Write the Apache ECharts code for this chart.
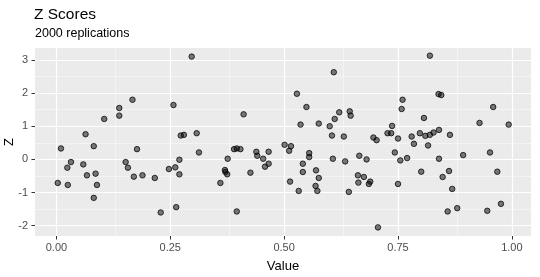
<!DOCTYPE html>
<html><head><meta charset="utf-8">
<script src="https://cdn.jsdelivr.net/npm/echarts@6/dist/echarts.min.js"></script>
<style>html,body{margin:0;padding:0;background:#fff}#c{width:540px;height:277px}</style>
</head><body><div id="c"></div>
<script>
const titleText = 'Z Scores';
const subtitleText = '2000 replications';
const xName = 'Value';
const yName = 'Z';
const xTicks = [0, 0.25, 0.5, 0.75, 1];
const yTicks = [-2, -1, 0, 1, 2, 3];
const xMinor = [0.125, 0.375, 0.625, 0.875];
const yMinor = [-1.5, -0.5, 0.5, 1.5, 2.5];

const valueX = [
  0.105,0.064,0.010,0.082,0.032,0.024,0.059,0.067,0.086,0.003,0.025,0.089,0.082,
  0.297,0.167,0.138,0.138,0.257,0.273,0.280,0.308,0.177,0.313,0.152,0.157,0.270,0.247,0.261,0.270,0.170,0.189,0.216,0.263,0.229,
  0.411,0.390,0.396,0.404,0.439,0.441,0.466,0.376,0.454,0.466,0.458,0.370,0.371,0.375,0.426,0.360,0.396,
  0.609,0.528,0.549,0.621,0.644,0.646,0.611,0.536,0.576,0.600,0.605,0.631,0.501,0.515,0.511,0.555,0.555,0.607,0.634,0.665,0.681,0.541,0.541,0.570,0.576,0.513,0.569,0.532,0.573,0.662,0.675,0.663,0.642,
  0.820,0.839,0.845,0.760,0.758,0.807,0.737,0.696,0.703,0.727,0.735,0.750,0.780,0.798,0.810,0.820,0.828,0.840,0.864,0.785,0.816,0.743,0.755,0.770,0.840,0.801,0.862,0.848,0.689,0.686,0.750,0.859,0.706,
  0.959,0.929,0.993,0.893,0.952,0.968,0.869,0.880,0.946,0.976
];
const zScore = [
  1.22,0.76,0.33,0.40,-0.08,-0.25,-0.15,-0.48,-0.43,-0.71,-0.77,-0.77,-1.16,
  3.10,1.80,1.55,1.32,1.64,0.72,0.74,0.79,0.31,0.21,-0.08,-0.25,-0.01,-0.29,-0.24,-0.45,-0.52,-0.48,-0.56,-1.44,-1.60,
  1.36,0.31,0.33,0.31,0.23,0.11,0.23,0.02,0.02,-0.13,-0.22,-0.32,-0.38,-0.45,-0.40,-0.71,-1.57,
  2.63,1.98,1.58,1.42,1.45,1.32,1.22,1.05,1.08,1.00,0.72,0.69,0.44,0.40,0.26,0.19,0.07,0.02,-0.06,0.11,0.00,-0.13,-0.38,-0.33,-0.56,-0.67,-0.80,-0.95,-0.95,-0.48,-0.53,-0.70,-0.98,
  3.13,1.97,1.94,1.80,1.52,1.25,1.01,0.66,0.58,0.79,0.79,0.63,0.69,0.79,0.71,0.74,0.81,0.89,0.74,0.47,0.42,0.21,-0.03,0.04,0.02,-0.37,-0.35,-0.53,-0.67,-0.74,-0.74,-1.57,-2.05,
  1.58,1.10,1.05,0.13,0.21,-0.37,-0.89,-1.47,-1.55,-1.34
];

const points = valueX.map((v, i) => [v, zScore[i]]);
const FONT = '"Liberation Sans", Arial, sans-serif';
const X_MIN = -0.047, X_MAX = 1.042, Y_MIN = -2.31, Y_MAX = 3.36;

const majorLine = {color: '#FFFFFF', width: 1.2, type: 'solid'};
const minorLine = {color: '#FAFAFA', width: 0.6, type: 'solid'};
const gridLineData = []
  .concat(xMinor.map(v => ({xAxis: v, lineStyle: minorLine})))
  .concat(yMinor.map(v => ({yAxis: v, lineStyle: minorLine})))
  .concat(xTicks.map(v => ({xAxis: v, lineStyle: majorLine})))
  .concat(yTicks.map(v => ({yAxis: v, lineStyle: majorLine})));

const chart = echarts.init(document.getElementById('c'), null, {renderer: 'canvas'});
chart.setOption({
  animation: false,
  backgroundColor: '#ffffff',
  title: [
    {text: titleText, left: 34, top: 6, padding: 0,
     textStyle: {fontFamily: FONT, fontSize: 15.5, fontWeight: 'normal', color: '#000', lineHeight: 18}},
    {text: subtitleText, left: 35, top: 26, padding: 0,
     textStyle: {fontFamily: FONT, fontSize: 12.5, fontWeight: 'normal', color: '#000', lineHeight: 15}}
  ],
  grid: {left: 35, right: 9, top: 48, bottom: 41, show: true, backgroundColor: '#EBEBEB', borderWidth: 0,
         containLabel: false, outerBoundsMode: 'none'},
  xAxis: {type: 'value', min: X_MIN, max: X_MAX,
     name: xName, nameLocation: 'middle', nameGap: 24,
     nameTextStyle: {fontFamily: FONT, fontSize: 13, color: '#000'},
     axisLine: {show: false, onZero: false},
     axisTick: {show: true, length: 3.5, customValues: xTicks, lineStyle: {color: '#333', width: 1}},
     axisLabel: {show: true, customValues: xTicks, formatter: v => v.toFixed(2), margin: 6,
                 fontFamily: FONT, fontSize: 11, color: '#4D4D4D'},
     splitLine: {show: false}},
  yAxis: {type: 'value', min: Y_MIN, max: Y_MAX,
     name: yName, nameLocation: 'middle', nameGap: 19, nameRotate: 90, nameMoveOverlap: false,
     nameTextStyle: {fontFamily: FONT, fontSize: 13, color: '#000'},
     axisLine: {show: false, onZero: false},
     axisTick: {show: true, length: 3.5, customValues: yTicks, lineStyle: {color: '#333', width: 1}},
     axisLabel: {show: true, customValues: yTicks, margin: 7,
                 fontFamily: FONT, fontSize: 11, color: '#4D4D4D'},
     splitLine: {show: false}},
  series: [
    {type: 'scatter', data: [], z: 1, silent: true,
     markLine: {silent: true, z: 1, symbol: ['none', 'none'], label: {show: false}, animation: false,
                emphasis: {disabled: true}, data: gridLineData}},
    {type: 'scatter', data: points, symbol: 'circle', symbolSize: 5.5, z: 3,
     itemStyle: {color: 'rgba(0,0,0,0.5)', borderColor: 'rgba(0,0,0,0.75)', borderWidth: 1, opacity: 1}}
  ]
});
</script></body></html>
